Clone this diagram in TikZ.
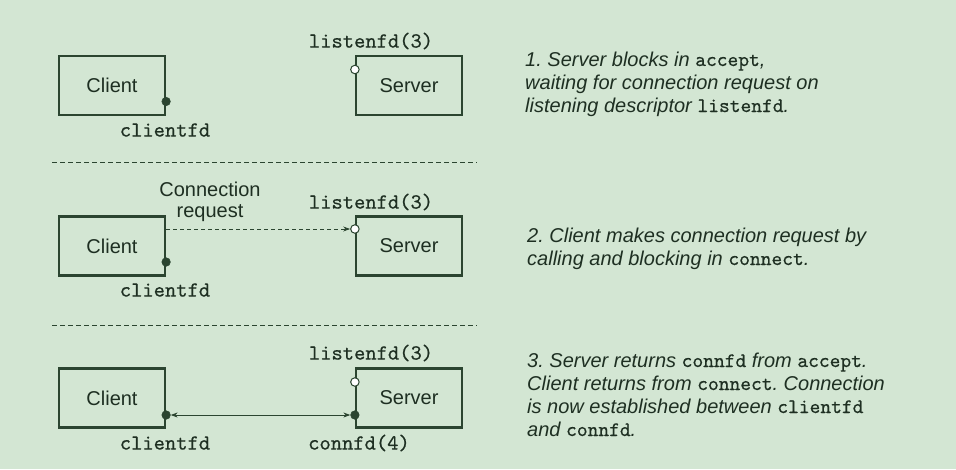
\documentclass[tikz,border=0pt]{standalone}
\usepackage{fontspec}
\setmainfont{Liberation Sans}
\setmonofont[FakeBold=0.5]{lmmono10-regular.otf}
\usetikzlibrary{arrows.meta}
\definecolor{bg}{HTML}{D3E6D3}
\definecolor{ink}{HTML}{2B4530}
\definecolor{txt}{HTML}{1E2F22}
\tikzset{mytip/.tip={Stealth[length=7pt,width=5pt]}}
\begin{document}
\frenchspacing
\begin{tikzpicture}[x=1pt,y=-1pt,
  box/.style={draw=ink, line width=2.2pt, minimum width=106pt, minimum height=59pt, inner sep=0pt, text=txt, font=\fontsize{20}{24}\selectfont},
  mono/.style={text=txt, inner sep=0pt, font=\fontsize{21.5}{24}\ttfamily},
  lbl/.style={text=txt, inner sep=0pt, font=\fontsize{20}{21}\selectfont, align=center},
  para/.style={text=txt, inner sep=0pt, anchor=base west, align=left, font=\fontsize{20}{23}\selectfont\itshape},
  fulldot/.style={circle, fill=ink, draw=ink, line width=0.6pt, minimum size=8.5pt, inner sep=0pt},
  opendot/.style={circle, fill=white, draw=ink, line width=1pt, minimum size=8.5pt, inner sep=0pt},
  sep/.style={draw=ink, line width=0.8pt, dash pattern=on 5pt off 3pt}
]
\fill[bg] (0,0) rectangle (956,469);
\useasboundingbox (0,0) rectangle (956,469);
\newcommand{\cd}[1]{{\upshape\fontsize{20.5}{23}\ttfamily #1}}

% ---------- panel 1
\node[box] (c1) at (112,85.5) {Client};
\node[box] (s1) at (409,85.5) {Server};
\node[fulldot] (c1d) at ([yshift=-16pt]c1.east) {};
\node[opendot] (s1o) at ([yshift=16pt]s1.west) {};
\node[mono] (l1) at (371,41) {listenfd(3)};
\node[mono] (cf1) at (165,130) {clientfd};
\node[para] (t1) at (525,112) {1. Server blocks in \cd{accept},\\waiting for connection request on\\listening descriptor \cd{listenfd}.};

\coordinate (a1) at (52,162);
\coordinate (b1) at (477,162);
\draw[sep] (a1) -- (b1);

% ---------- panel 2
\node[box] (c2) at (112,246) {Client};
\node[box] (s2) at (409,246) {Server};
\node[fulldot] (c2d) at ([yshift=-16pt]c2.east) {};
\node[opendot] (s2o) at ([yshift=17pt]s2.west) {};
\node[mono] (l2) at (371,202) {listenfd(3)};
\node[mono] (cf2) at (165,290) {clientfd};
\node[lbl] (cr) at (210,201.5) {Connection\\request};
\coordinate (c2s) at (c2.east |- s2o);
\draw[ink, line width=0.9pt, dash pattern=on 4pt off 3pt, -{mytip}] (c2s) -- (s2o.west);
\node[para] (t2) at (527,265) {2. Client makes connection request by\\calling and blocking in \cd{connect}.};

\coordinate (a2) at (52,325);
\coordinate (b2) at (477,325);
\draw[sep] (a2) -- (b2);

% ---------- panel 3
\node[box] (c3) at (112,398) {Client};
\node[box] (s3) at (409,398) {Server};
\node[opendot] (s3o) at ([yshift=16pt]s3.west) {};
\node[fulldot] (c3d) at ([yshift=-17pt]c3.east) {};
\node[fulldot] (s3d) at ([yshift=-17pt]s3.west) {};
\draw[ink, line width=0.9pt, {mytip}-{mytip}] (c3d) -- (s3d);
\node[mono] (l3) at (371,353) {listenfd(3)};
\node[mono] (cf3) at (165,443) {clientfd};
\node[mono] (cn3) at (359,443) {connfd(4)};
\node[para] (t3) at (527,436) {3. Server returns \cd{connfd} from \cd{accept}.\\Client returns from \cd{connect}. Connection\\is now established between \cd{clientfd}\\and \cd{connfd}.};
\end{tikzpicture}
\end{document}
